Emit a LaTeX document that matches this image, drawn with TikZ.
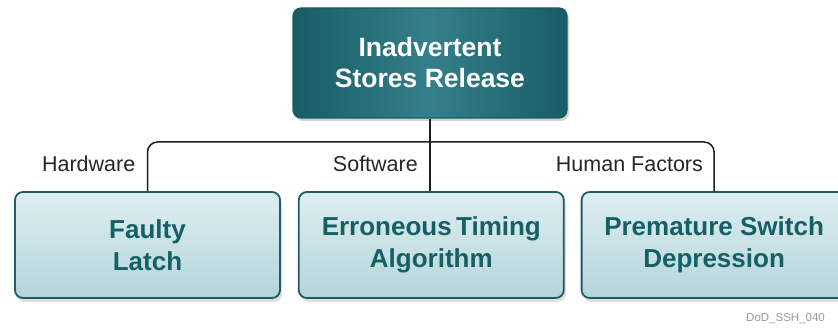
\documentclass[tikz,border=0pt]{standalone}
\usepackage{fontspec}
\setmainfont{Liberation Sans}
\usetikzlibrary{positioning,shadows,calc}
\definecolor{tealdark}{RGB}{24,92,102}
\definecolor{tealmid}{RGB}{42,118,128}
\definecolor{teallight}{RGB}{52,128,138}
\definecolor{leaftop}{RGB}{222,238,240}
\definecolor{leafbot}{RGB}{180,213,218}
\definecolor{leafedge}{RGB}{30,92,102}
\definecolor{leaftext}{RGB}{20,96,102}
\definecolor{wirecol}{RGB}{30,30,30}
\tikzset{
  basebox/.style={rectangle,rounded corners=8pt,align=center,font=\bfseries\fontsize{26.5}{31}\selectfont},
  topbox/.style={basebox,draw=tealdark,line width=1.2pt,left color=tealdark,right color=tealdark,middle color=teallight,
    text=white,minimum width=274pt,minimum height=110pt,
    drop shadow={opacity=0.35,shadow xshift=2pt,shadow yshift=-3pt}},
  leafbox/.style={basebox,draw=leafedge,line width=1.8pt,top color=leaftop,bottom color=leafbot,
    text=leaftext,minimum width=265pt,minimum height=106pt,font=\bfseries\fontsize{26}{32}\selectfont,
    drop shadow={opacity=0.25,shadow xshift=2pt,shadow yshift=-4pt}},
  branchlabel/.style={font=\fontsize{21.5}{24}\selectfont,text=black!85,inner sep=0pt},
  wire/.style={draw=wirecol,line width=1.5pt,rounded corners=10pt},
  tagtext/.style={font=\fontsize{11.5}{13}\selectfont,text=black!40,inner sep=0pt}
}
\begin{document}
\begin{tikzpicture}[x=1pt,y=-1pt]
  \useasboundingbox (0,0) rectangle (838,328);
  \clip (0,0) rectangle (838,328);

  \node[topbox] (release) at (430,63) {Inadvertent\\Stores Release};
  \node[leafbox] (latch) at (147.5,245) {Faulty\\Latch};
  \node[leafbox,right=17pt of latch] (timing) {Erroneous\,Timing\\Algorithm};
  \node[leafbox,right=16pt of timing] (switch) {Premature Switch\\Depression};

  \coordinate (bus) at (430,142);
  \draw[wire] (latch.north) -- (latch.north |- bus) -- (switch.north |- bus) -- (switch.north);
  \draw[wire] (release.south) -- (release.south |- timing.north);

  \node[branchlabel,anchor=base east] (hwlabel) at ([xshift=-12pt,yshift=20pt]latch.north) {Hardware};
  \node[branchlabel,anchor=base east] (swlabel) at ([xshift=-12pt,yshift=20pt]release.south |- timing.north) {Software};
  \node[branchlabel,anchor=base east] (hflabel) at ([xshift=-11pt,yshift=20pt]switch.north) {Human Factors};

  \node[tagtext,anchor=base west] (tag) at (746,322) {DoD\_SSH\_040};
\end{tikzpicture}
\end{document}
